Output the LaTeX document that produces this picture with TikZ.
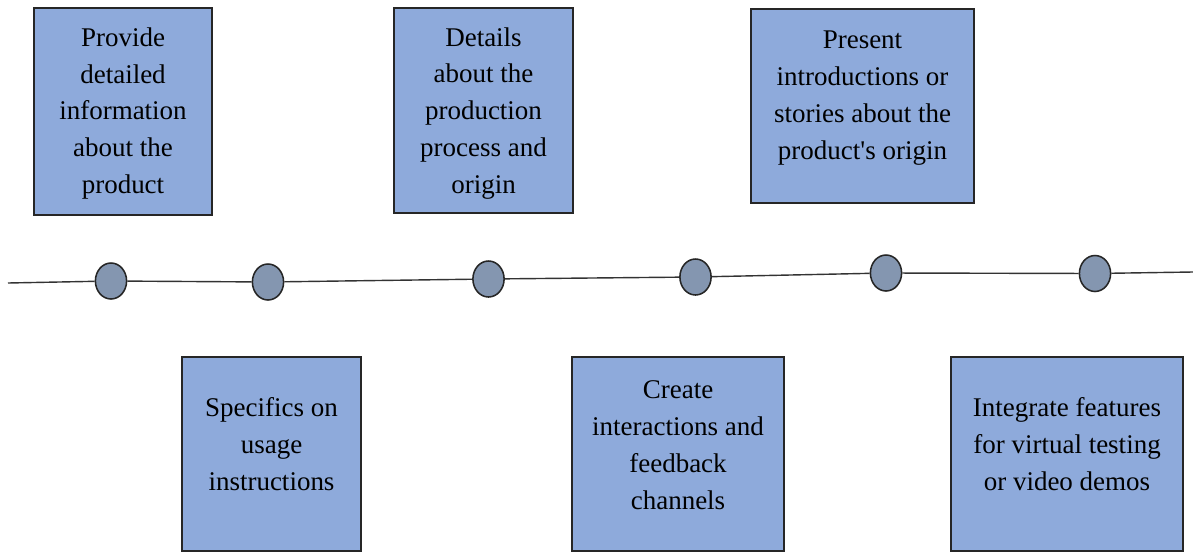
\documentclass[tikz,border=0pt]{standalone}
\usepackage{fontspec}
\setmainfont{Liberation Serif}
\usepackage{xcolor}
\definecolor{cardBlue}{HTML}{8EAADB}
\definecolor{dotGrey}{HTML}{8496B0}
\usetikzlibrary{shapes.geometric}

\begin{document}
\begin{tikzpicture}[
    card/.style={draw=black!85,fill=cardBlue,line width=1pt,inner sep=0pt,
                 minimum height=4.85cm},
    txt/.style={align=center,inner sep=0pt,
                font=\fontsize{19.2}{26.3}\selectfont},
    dot/.style={ellipse,draw=black!85,fill=dotGrey,line width=1.1pt,
                minimum width=0.78cm,minimum height=0.9cm,inner sep=0pt},
    axis/.style={draw=black!80,line width=1pt},
  ]
    \useasboundingbox (0,0) rectangle (29.825,-13.8);

    % upper cards
    \node[card,minimum width=4.45cm,minimum height=5.175cm]
      (info) at (3.075,-2.7875) {};
    \node[card,minimum width=4.475cm,minimum height=5.125cm]
      (proc) at (12.0875,-2.7625) {};
    \node[card,minimum width=5.575cm] (story) at (21.5625,-2.65) {};

    % lower cards
    \node[card,minimum width=4.475cm] (usage) at (6.7875,-11.35) {};
    \node[card,minimum width=5.3cm]   (feed)  at (16.95,-11.35) {};
    \node[card,minimum width=5.8cm]   (demo)  at (26.675,-11.35) {};

    \node[txt] (info-t) at ([yshift=-0.05cm]info.center)
      {Provide\\detailed\\information\\about the\\product};
    \node[txt] (proc-t) at ([yshift=-0.075cm]proc.center)
      {Details\\about the\\production\\process and\\origin};
    \node[txt] (story-t) at ([yshift=0.2cm]story.center)
      {Present\\introductions or\\stories about the\\product\textquotesingle s origin};
    \node[txt] (usage-t) at ([yshift=0.24cm]usage.center)
      {Specifics on\\usage\\instructions};
    \node[txt] (feed-t) at ([yshift=0.22cm]feed.center)
      {Create\\interactions and\\feedback\\channels};
    \node[txt] (demo-t) at ([yshift=0.24cm]demo.center)
      {Integrate features\\for virtual testing\\or video demos};

    % timeline
    \coordinate (tl-start) at (0.2,-7.075);
    \coordinate (tl-end)   at (29.825,-6.8);
    \node[dot] (p1) at (2.775,-7.025)   {};
    \node[dot] (p2) at (6.7,-7.05)      {};
    \node[dot] (p3) at (12.2125,-6.975) {};
    \node[dot] (p4) at (17.3875,-6.925) {};
    \node[dot] (p5) at (22.15,-6.825)   {};
    \node[dot] (p6) at (27.375,-6.8375) {};

    \draw[axis] (tl-start) -- (p1) -- (p2) -- (p3) -- (p4)
      -- (p5) -- (p6) -- (tl-end);

  \end{tikzpicture}
\end{document}
